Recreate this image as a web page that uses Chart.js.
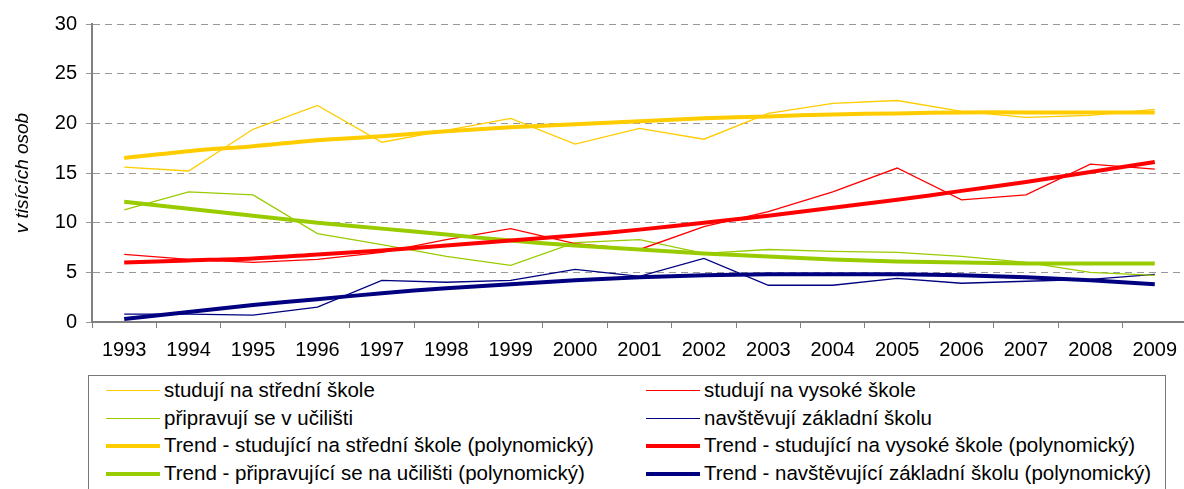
<!DOCTYPE html>
<html>
<head>
<meta charset="utf-8">
<script src="https://cdn.jsdelivr.net/npm/chart.js@4"></script>
<style>
    html, body { margin: 0; padding: 0; background: #fff; overflow: hidden; }
    #wrap { position: relative; width: 1184px; height: 489px; overflow: hidden; }
    #chart { position: absolute; left: 0; top: 0; }
    #legend {
        position: absolute; left: 88px; top: 375px; width: 1078px; height: 130px;
        border: 1.5px solid #777; box-sizing: border-box;
        font-family: "Liberation Sans", Arial, sans-serif; font-size: 20.5px; color: #000;
    }
    .item { position: absolute; height: 28px; line-height: 28px; white-space: nowrap; }
    .item .sample { position: absolute; left: 0; width: 54px; }
    .item span { position: absolute; left: 58px; }
</style>
</head>
<body>
<div id="wrap">
    <canvas id="chart" width="1190" height="370"></canvas>
    <div id="legend"></div>
</div>
<script>
// Years on the x axis
const years = ['1993', '1994', '1995', '1996', '1997', '1998', '1999', '2000', '2001',
    '2002', '2003', '2004', '2005', '2006', '2007', '2008', '2009'];

// Values in thousands of people
const stredni = [15.6, 15.2, 19.4, 21.8, 18.1, 19.3, 20.5, 17.9, 19.5, 18.4, 21.0, 22.0, 22.3, 21.2, 20.6, 20.8, 21.4];
const vysoka = [6.8, 6.3, 6.0, 6.3, 7.0, 8.3, 9.4, 7.9, 7.3, 9.6, 11.1, 13.1, 15.5, 12.3, 12.8, 15.9, 15.4];
const uciliste = [11.3, 13.1, 12.8, 8.9, 7.8, 6.6, 5.7, 8.0, 8.3, 6.9, 7.3, 7.1, 7.0, 6.6, 6.0, 5.0, 4.7];
const zakladni = [0.8, 0.8, 0.7, 1.5, 4.2, 4.0, 4.2, 5.3, 4.6, 6.4, 3.7, 3.7, 4.4, 3.9, 4.1, 4.3, 4.8];

// Polynomial trends
const trendStredni = [16.5, 17.2, 17.7, 18.3, 18.7, 19.2, 19.6, 19.9, 20.2, 20.5, 20.7, 20.9, 21.0, 21.1, 21.1, 21.1, 21.1];
const trendVysoka = [6.0, 6.2, 6.4, 6.8, 7.2, 7.7, 8.2, 8.7, 9.3, 10.0, 10.7, 11.5, 12.3, 13.2, 14.1, 15.1, 16.1];
const trendUciliste = [12.1, 11.4, 10.7, 10.0, 9.4, 8.8, 8.2, 7.7, 7.3, 6.9, 6.6, 6.3, 6.1, 6.0, 5.9, 5.9, 5.9];
const trendZakladni = [0.3, 1.0, 1.7, 2.3, 2.9, 3.4, 3.8, 4.2, 4.5, 4.7, 4.8, 4.8, 4.8, 4.7, 4.5, 4.2, 3.8];

const yTicks = [0, 5, 10, 15, 20, 25, 30];

const font = '"Liberation Sans", Arial, sans-serif';

function series(label, data, color, width, order) {
    return {
        label, data,
        borderColor: color,
        backgroundColor: color,
        borderWidth: width,
        pointRadius: 0,
        tension: width > 2 ? 0.3 : 0,
        order
    };
}

const datasets = [
    series('studují na střední škole', stredni, '#FFCC00', 1.3, 1),
    series('studují na vysoké škole', vysoka, '#FF0000', 1.3, 1),
    series('připravují se v učilišti', uciliste, '#99CC00', 1.3, 1),
    series('navštěvují základní školu', zakladni, '#000080', 1.3, 1),
    series('Trend - studující na střední škole (polynomický)', trendStredni, '#FFCC00', 4, 0),
    series('Trend - studující na vysoké škole (polynomický)', trendVysoka, '#FF0000', 4, 0),
    series('Trend - připravující se na učilišti (polynomický)', trendUciliste, '#99CC00', 4, 0),
    series('Trend - navštěvující základní školu (polynomický)', trendZakladni, '#000080', 4, 0)
];

const ctx = document.getElementById('chart').getContext('2d');
const chart = new Chart(ctx, {
    type: 'line',
    data: { labels: years, datasets },
    options: {
        responsive: false,
        animation: false,
        layout: { padding: { top: 24, right: 3, left: 0, bottom: 0 } },
        plugins: { legend: { display: false }, tooltip: { enabled: false } },
        scales: {
            x: {
                offset: true,
                grid: { offset: true, drawOnChartArea: false, color: '#808080', tickLength: 6, lineWidth: 1 },
                border: { color: '#808080', width: 2 },
                ticks: { color: '#000', font: { family: font, size: 20 }, padding: 10, maxRotation: 0, autoSkip: false },
                afterFit: s => { s.height = 48; }
            },
            y: {
                min: 0, max: 30,
                afterBuildTicks: s => { s.ticks = yTicks.map(v => ({ value: v })); },
                grid: { color: '#999', tickLength: 6, lineWidth: 1 },
                border: { color: '#808080', width: 2, dash: [7, 5] },
                ticks: { color: '#000', font: { family: font, size: 20 }, padding: 9 },
                title: {
                    display: true, text: 'v tisících osob', color: '#000',
                    font: { family: font, size: 19, style: 'italic' },
                    padding: { top: 11, bottom: 0 }
                },
                afterFit: s => { s.width = 92; }
            }
        }
    }
});

// Legend in two columns, built from the datasets
const legend = document.getElementById('legend');
datasets.forEach((ds, i) => {
    const col = i % 2, row = Math.floor(i / 2);
    const thick = ds.borderWidth > 2;
    const item = document.createElement('div');
    item.className = 'item';
    item.style.left = (col === 0 ? 17 : 557) + 'px';
    item.style.top = (row * 27.7) + 'px';
    const line = document.createElement('div');
    line.className = 'sample';
    line.style.height = (thick ? 4 : 1) + 'px';
    line.style.top = (thick ? 13 : 14) + 'px';
    line.style.background = ds.borderColor;
    const txt = document.createElement('span');
    txt.textContent = ds.label;
    item.appendChild(line);
    item.appendChild(txt);
    legend.appendChild(item);
});
</script>
</body>
</html>
